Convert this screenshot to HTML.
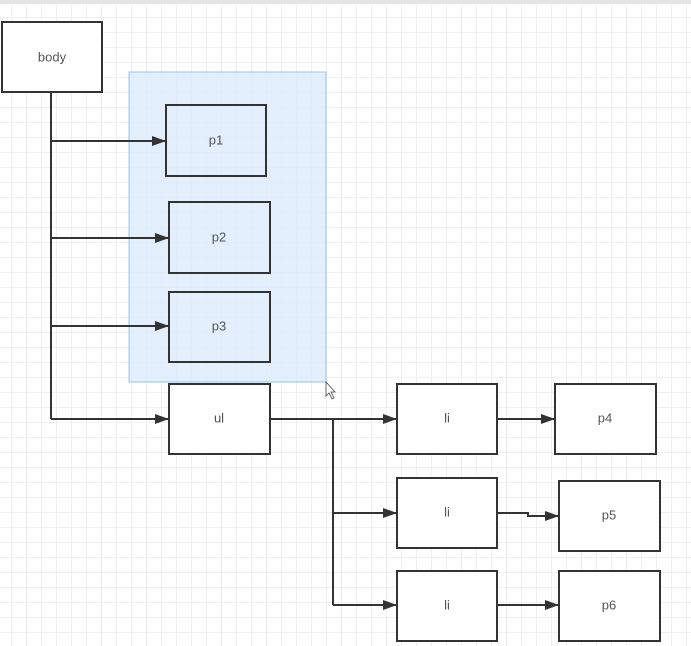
<!DOCTYPE html>
<html><head><style>
html,body{margin:0;padding:0;}
body{width:691px;height:646px;overflow:hidden;background:#fff;
background-image:linear-gradient(#f0f0f0 1px,transparent 1px),linear-gradient(90deg,#f0f0f0 1px,transparent 1px);
background-size:15px 15px;background-position:-4px 2px;}
svg{position:absolute;left:0;top:0;}
text{font-family:"Liberation Sans",sans-serif;font-size:13px;fill:#555;text-anchor:middle;dominant-baseline:middle;}
</style></head><body>
<svg width="691" height="646" xmlns="http://www.w3.org/2000/svg">
<defs><marker id="a" markerWidth="14" markerHeight="10" refX="13" refY="5" orient="auto" markerUnits="userSpaceOnUse">
<path d="M0,0 L14,5 L0,10 z" fill="#333"/></marker></defs>
<rect x="0" y="0" width="691" height="4" fill="#e4e4e4"/>
<rect x="129" y="72" width="197" height="310" fill="#dcebfb" fill-opacity="0.8" stroke="#9cc3ea" stroke-width="1"/>
<g fill="none" stroke="#333" stroke-width="2">
<rect x="2" y="22" width="100" height="70" fill="#fff"/>
<rect x="166" y="105" width="100" height="71"/>
<rect x="169" y="202" width="101" height="71"/>
<rect x="169" y="292" width="101" height="70"/>
<rect x="169" y="384" width="101" height="70" fill="#fff"/>
<rect x="397" y="384" width="100" height="70" fill="#fff"/>
<rect x="555" y="384" width="101" height="70" fill="#fff"/>
<rect x="397" y="478" width="100" height="70" fill="#fff"/>
<rect x="559" y="481" width="101" height="70" fill="#fff"/>
<rect x="397" y="571" width="100" height="70" fill="#fff"/>
<rect x="559" y="571" width="101" height="70" fill="#fff"/>
<path d="M51,92 V419"/>
<path d="M51,141 H165" marker-end="url(#a)"/>
<path d="M51,238 H168" marker-end="url(#a)"/>
<path d="M51,326 H168" marker-end="url(#a)"/>
<path d="M51,419 H168" marker-end="url(#a)"/>
<path d="M270,419 H396" marker-end="url(#a)"/>
<path d="M333,419 V605"/>
<path d="M333,513 H396" marker-end="url(#a)"/>
<path d="M333,605 H396" marker-end="url(#a)"/>
<path d="M497,419 H554" marker-end="url(#a)"/>
<path d="M497,513 H528 V516 H558" marker-end="url(#a)"/>
<path d="M497,605 H558" marker-end="url(#a)"/>
</g>
<path d="M326,382 v14 l3,-3 l3,6 l2,-1 l-3,-6 h4 z" fill="#fff" stroke="#444" stroke-width="0.8"/>
<text x="52" y="58">body</text>
<text x="216" y="141">p1</text>
<text x="219" y="238">p2</text>
<text x="219" y="327">p3</text>
<text x="219" y="419">ul</text>
<text x="447" y="419">li</text>
<text x="605" y="419">p4</text>
<text x="447" y="513">li</text>
<text x="609" y="516">p5</text>
<text x="447" y="606">li</text>
<text x="609" y="606">p6</text>
</svg>
</body></html>
